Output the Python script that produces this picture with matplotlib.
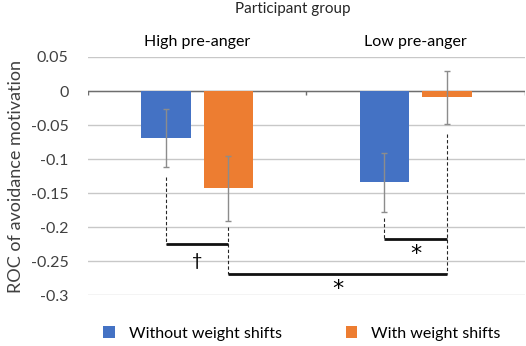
import matplotlib
matplotlib.use("Agg")
import matplotlib.pyplot as plt
import numpy as np

plt.rcParams['font.family'] = ['Lato', 'DejaVu Sans']

groups = ["High pre-anger", "Low pre-anger"]
series = ["Without weight shifts", "With weight shifts"]
without_vals = [-0.069, -0.134]
with_vals = [-0.143, -0.009]
without_err = [0.043, 0.043]
with_err = [0.048, 0.039]

# significance brackets: (group a, series a, group b, series b, drop start a, drop start b, level, label)
brackets = [
    (0, 0, 0, 1, -0.126, None, -0.225, "\u2020"),
    (1, 0, 1, 1, -0.186, None, -0.217, "*"),
    (0, 1, 1, 1, -0.200, -0.063, -0.269, "*"),
]

blue = "#4472C4"
orange = "#ED7D31"
width = 0.225
offset = 0.143

fig = plt.figure(figsize=(5.26, 3.46), dpi=100)
ax = fig.add_axes([0.1673, 0.1465, 0.8307, 0.6888])

x = np.arange(len(groups))
xs = [x - offset, x + offset]
ax.bar(xs[0], without_vals, width, color=blue, label=series[0], zorder=3)
ax.bar(xs[1], with_vals, width, color=orange, label=series[1], zorder=3)
ax.errorbar(xs[0], without_vals, yerr=without_err, fmt='none', ecolor='#8c8c8c',
            elinewidth=1, capsize=2.5, capthick=1, zorder=4)
ax.errorbar(xs[1], with_vals, yerr=with_err, fmt='none', ecolor='#8c8c8c',
            elinewidth=1, capsize=2.5, capthick=1, zorder=4)

# brackets
for ga, sa, gb, sb, ya, yb, lvl, lab in brackets:
    xa = xs[sa][ga]
    xb = xs[sb][gb]
    ax.plot([xa, xa], [ya, lvl], color='#262626', lw=0.8, ls=(0, (3, 2)), zorder=5)
    if yb is not None:
        ax.plot([xb, xb], [yb, lvl], color='#262626', lw=0.8, ls=(0, (3, 2)), zorder=5)
    ax.plot([xa, xb], [lvl, lvl], color='#111111', lw=2, solid_capstyle='butt', zorder=6)
    if lab == "*":
        ax.text((xa + xb) / 2, lvl - 0.022, lab, ha='center', va='center',
                fontsize=16, color='black', zorder=6, family='DejaVu Sans')
    else:
        ax.text((xa + xb) / 2, lvl - 0.024, lab, ha='center', va='center',
                fontsize=13, color='black', zorder=6)

ax.set_xlim(-0.5, 1.5)
ax.set_ylim(-0.3, 0.05)
ax.set_yticks(np.arange(-0.3, 0.051, 0.05))
ax.set_yticklabels(["-0.3", "-0.25", "-0.2", "-0.15", "-0.1", "-0.05", "0", "0.05"])
ax.grid(axis='y', color='#c8c8c8', lw=1, zorder=0)
ax.axhline(0, color='#6e6e6e', lw=1, zorder=2)

for s in ax.spines.values():
    s.set_visible(False)

ax.xaxis.tick_top()
ax.set_xticks(x)
ax.set_xticklabels(groups, fontsize=11.5)
ax.tick_params(axis='x', which='major', length=0, pad=6, top=True, labeltop=True,
               bottom=False, labelbottom=False)
# category boundary ticks on the zero line
ax.vlines([-0.5, 0.5, 1.5], -0.006, 0, color='#6e6e6e', lw=1, zorder=2)
ax.tick_params(axis='y', length=0, labelsize=11.5, labelcolor='#404040', pad=14)

ax.set_ylabel("ROC of avoidance motivation", fontsize=13, color='#404040', labelpad=5)
fig.text(0.557, 0.975, "Participant group", ha='center', va='center', fontsize=11,
         color='#262626')

ax.legend(loc='upper center', bbox_to_anchor=(0.49, -0.07), ncol=2, frameon=False,
          fontsize=11.5, handlelength=0.7, handleheight=0.7, columnspacing=4.0,
          handletextpad=0.9)

fig.savefig("out.png", dpi=100)
